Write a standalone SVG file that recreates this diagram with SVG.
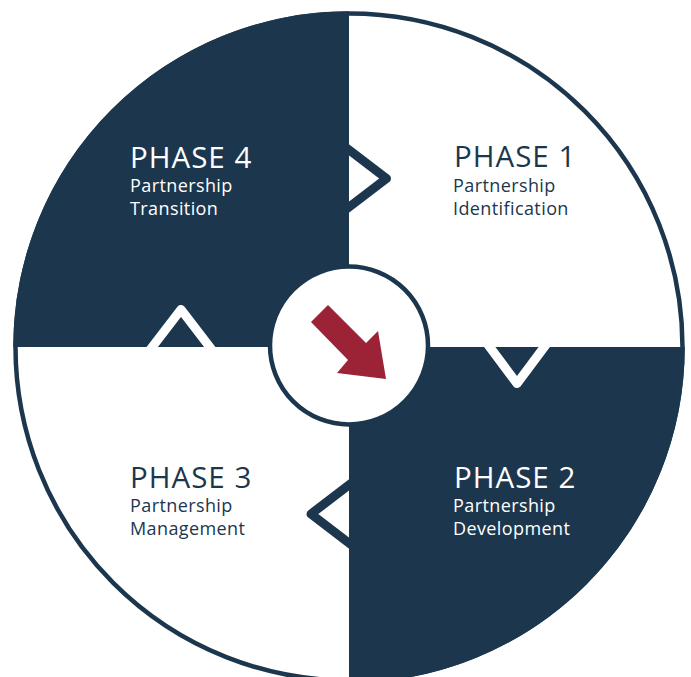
<svg xmlns="http://www.w3.org/2000/svg" width="691" height="677" viewBox="0 0 691 677">
  <style>
    .dark { fill: #1c374d; }
    .ring { fill: none; stroke: #1c374d; stroke-width: 4.5; }
    .chev { fill: none; stroke-width: 9; stroke-linejoin: round; stroke-linecap: butt; }
    .chev-d { stroke: #1c374d; }
    .chev-w { stroke: #ffffff; }
    .title { font-family: "Open Sans", "Liberation Sans", sans-serif; font-size: 29.5px; font-weight: 500; letter-spacing: 1px; }
    .sub { font-family: "Open Sans", "Liberation Sans", sans-serif; font-size: 18px; font-weight: 500; letter-spacing: 0.4px; }
    .on-dark { fill: #ffffff; }
    .on-light { fill: #1c374d; }
  </style>

  <rect width="691" height="677" fill="#ffffff"/>

  <!-- Phase 4: top-left dark quadrant -->
  <g id="phase4">
    <path class="dark" d="M349,347 L13.25,347 A335.75,335.75 0 0 1 349,11.25 Z"/>
    <text class="title on-dark" x="130" y="168">PHASE 4</text>
    <text class="sub on-dark" x="130" y="192">Partnership</text>
    <text class="sub on-dark" x="130" y="214.5">Transition</text>
  </g>

  <!-- Phase 1: top-right light quadrant -->
  <g id="phase1">
    <text class="title on-light" x="454" y="167">PHASE 1</text>
    <text class="sub on-light" x="453" y="192">Partnership</text>
    <text class="sub on-light" x="453" y="214.5">Identification</text>
  </g>

  <!-- Phase 2: bottom-right dark quadrant -->
  <g id="phase2">
    <path class="dark" d="M349,347 L684.75,347 A335.75,335.75 0 0 1 349,682.75 Z"/>
    <text class="title on-dark" x="454" y="488">PHASE 2</text>
    <text class="sub on-dark" x="453" y="512">Partnership</text>
    <text class="sub on-dark" x="453" y="534.5">Development</text>
  </g>

  <!-- Phase 3: bottom-left light quadrant -->
  <g id="phase3">
    <text class="title on-light" x="130" y="488">PHASE 3</text>
    <text class="sub on-light" x="130" y="512">Partnership</text>
    <text class="sub on-light" x="130" y="534.5">Management</text>
  </g>

  <!-- outer ring -->
  <circle class="ring" cx="349" cy="347" r="333.5"/>

  <!-- chevron connectors between phases -->
  <g id="connectors">
    <polyline class="chev chev-d" points="340,143 386.5,178.5 340,214"/>
    <polyline class="chev chev-w" points="484.5,340 517,383.5 549.5,340"/>
    <polyline class="chev chev-d" points="358,478 311,514 358,550"/>
    <polyline class="chev chev-w" points="148.4,352 181,309.5 213.6,352"/>
  </g>

  <!-- centre hub with direction arrow -->
  <g id="hub">
    <circle cx="349" cy="345.5" r="79" fill="#ffffff" stroke="#1c374d" stroke-width="4.5"/>
    <polygon fill="#9b2335" points="311,322 328,305 366,343 378,331 386,379 337,373 348,360"/>
  </g>
</svg>
